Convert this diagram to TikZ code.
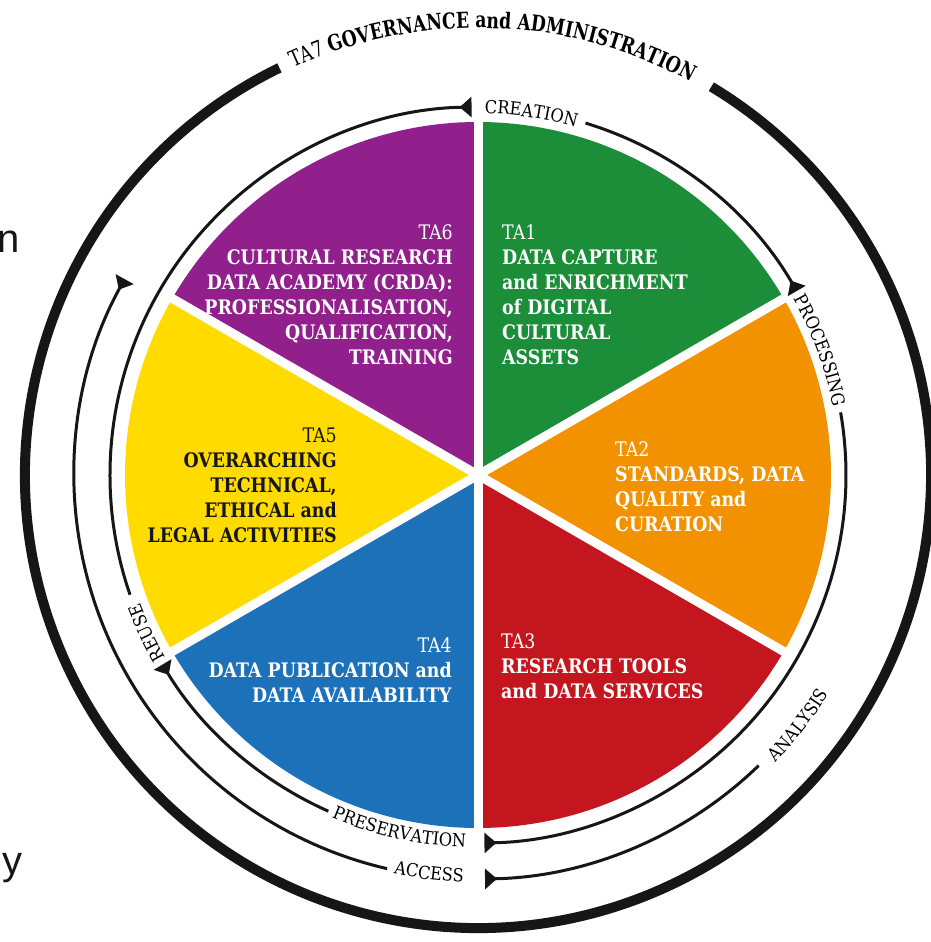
\documentclass[tikz,border=0pt]{standalone}
\usepackage{fontspec}
\setmainfont{DejaVu Serif}[FakeStretch=0.87]
\newfontfamily\lblfont{DejaVu Serif}[FakeStretch=0.9]
\newfontfamily\titlefont{DejaVu Serif}[FakeStretch=0.78]
\newfontfamily\strayfont{Liberation Sans}
\usetikzlibrary{decorations.text,arrows.meta}
\definecolor{taPurple}{RGB}{145,32,140}
\definecolor{taGreen}{RGB}{28,142,58}
\definecolor{taOrange}{RGB}{243,146,0}
\definecolor{taRed}{RGB}{196,22,30}
\definecolor{taBlue}{RGB}{29,113,184}
\definecolor{taYellow}{RGB}{255,219,0}
\definecolor{ringBlack}{RGB}{22,22,22}
\begin{document}
\begin{tikzpicture}[x=1pt,y=1pt,
  tatext/.style={inner sep=0pt, font=\fontsize{20}{25}\selectfont, text=white},
  ring/.style={draw=ringBlack, line width=3pt},
  arrowring/.style={ring, -{Triangle[reversed,length=12pt,width=20pt]}},
  thickring/.style={draw=ringBlack, line width=10pt},
  gap/.style={white, line width=9pt},
  stray/.style={inner sep=0pt, anchor=base west, text=ringBlack, font=\strayfont\fontsize{40}{40}\selectfont}
]
\useasboundingbox (-478,-467) rectangle (452,475);
\fill[white] (-478,-467) rectangle (452,475);

% pie sectors
\fill[taGreen]  (0,0) -- (90:353)  arc[start angle=90, end angle=30, radius=353pt] -- cycle;
\fill[taOrange] (0,0) -- (30:353)  arc[start angle=30, end angle=-30, radius=353pt] -- cycle;
\fill[taRed]    (0,0) -- (-30:353) arc[start angle=-30, end angle=-90, radius=353pt] -- cycle;
\fill[taBlue]   (0,0) -- (-90:353) arc[start angle=-90, end angle=-150, radius=353pt] -- cycle;
\fill[taYellow] (0,0) -- (210:353) arc[start angle=210, end angle=150, radius=353pt] -- cycle;
\fill[taPurple] (0,0) -- (150:353) arc[start angle=150, end angle=90, radius=353pt] -- cycle;
\foreach \a in {30,90,150,210,270,330} \draw[gap] (0,0) -- (\a:362);

% sector texts
\node[tatext, align=left, anchor=north west] (ta1) at (24,251)
  {TA1\\\textbf{DATA CAPTURE}\\\textbf{and ENRICHMENT}\\\textbf{of DIGITAL}\\\textbf{CULTURAL}\\\textbf{ASSETS}};
\node[tatext, align=left, anchor=north west] (ta2) at (137,34)
  {TA2\\\textbf{STANDARDS, DATA}\\\textbf{QUALITY and}\\\textbf{CURATION}};
\node[tatext, align=left, anchor=north west] (ta3) at (23,-158)
  {TA3\\\textbf{RESEARCH TOOLS}\\\textbf{and DATA SERVICES}};
\node[tatext, align=right, anchor=north east] (ta4) at (-26,-162)
  {TA4\\\textbf{DATA PUBLICATION and}\\\textbf{DATA AVAILABILITY}};
\node[tatext, align=right, anchor=north east, text=ringBlack] (ta5) at (-141,47)
  {TA5\\\textbf{OVERARCHING}\\\textbf{TECHNICAL,}\\\textbf{ETHICAL and}\\\textbf{LEGAL ACTIVITIES}};
\node[tatext, align=right, anchor=north east] (ta6) at (-25,251)
  {TA6\\\textbf{CULTURAL RESEARCH}\\\textbf{DATA ACADEMY (CRDA):}\\\textbf{PROFESSIONALISATION,}\\\textbf{QUALIFICATION,}\\\textbf{TRAINING}};

% lifecycle rings
\draw[arrowring] (73:368)  arc[start angle=73,  end angle=30,  radius=368pt];
\draw[arrowring] (9.8:368) arc[start angle=9.8, end angle=-89, radius=368pt];
\draw[arrowring] (246:368) arc[start angle=246, end angle=211, radius=368pt];
\draw[arrowring] (199:368) arc[start angle=199, end angle=91,  radius=368pt];
\draw[arrowring] (-46:404) arc[start angle=-46, end angle=-89, radius=404pt];
\draw[arrowring] (257:404) arc[start angle=257, end angle=151, radius=404pt];

% lifecycle labels
\path[decorate, decoration={text along path, text align=center,
  text={|\lblfont\fontsize{18}{18}\selectfont|CREATION}}]
  (101.6:361.5) arc[start angle=101.6, end angle=61.6, radius=361.5pt];
\path[decorate, decoration={text along path, text align=center,
  text={|\lblfont\fontsize{18}{18}\selectfont|PROCESSING}}]
  (45:361.5) arc[start angle=45, end angle=-5, radius=361.5pt];
\path[decorate, decoration={text along path, text align=center,
  text={|\lblfont\fontsize{18}{18}\selectfont|REUSE}}]
  (225:361.5) arc[start angle=225, end angle=186, radius=361.5pt];
\path[decorate, decoration={text along path, text align=center,
  text={|\lblfont\fontsize{18}{18}\selectfont|ANALYSIS}}]
  (-60:413.5) arc[start angle=-60, end angle=-16, radius=413.5pt];
\path[decorate, decoration={text along path, text align=center,
  text={|\lblfont\fontsize{18}{18}\selectfont|PRESERVATION}}]
  (235:372.5) arc[start angle=235, end angle=280, radius=372.5pt];
\path[decorate, decoration={text along path, text align=center,
  text={|\lblfont\fontsize{18}{18}\selectfont|ACCESS}}]
  (245:407.5) arc[start angle=245, end angle=281, radius=407.5pt];

% governance ring
\draw[thickring] (116:453) arc[start angle=116, end angle=419, radius=453pt];
\path[decorate, decoration={text along path, text align=center,
  text={|\titlefont\fontsize{22}{22}\selectfont|TA7 |\titlefont\fontsize{22}{22}\selectfont\bfseries|GOVERNANCE and ADMINISTRATION}}]
  (128:447) arc[start angle=128, end angle=48, radius=447pt];

% stray letters at the left margin
\node[stray] (strayN) at (-481,222) {n};
\node[stray] (strayY) at (-476,-399) {y};
\end{tikzpicture}
\end{document}
